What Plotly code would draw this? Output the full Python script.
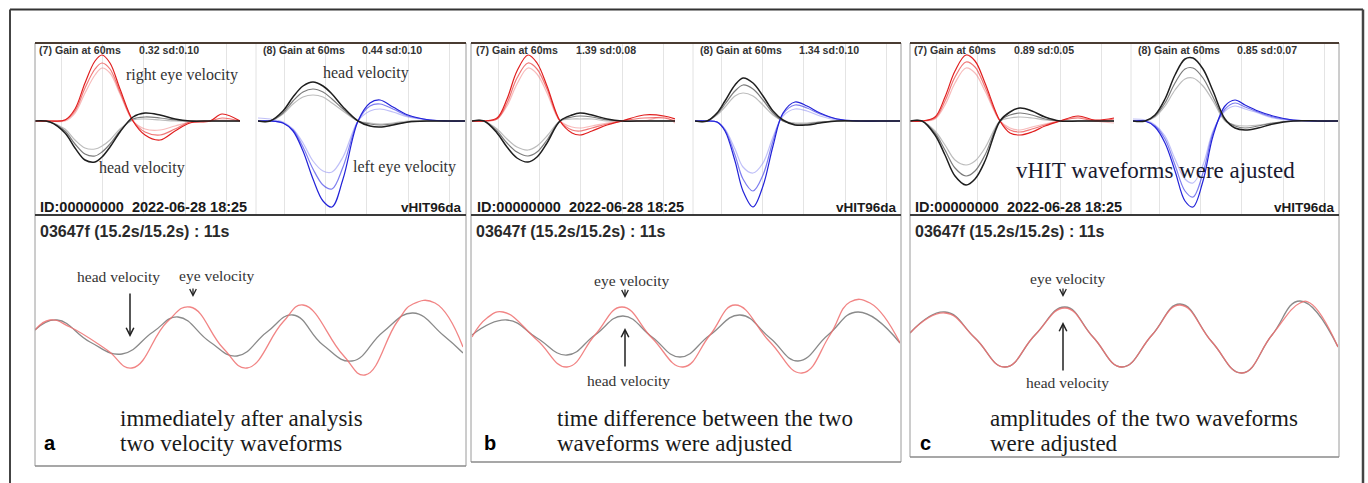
import plotly.graph_objects as go

W, H = 1368, 483

# ---------------- data ----------------
grid_t = [26, 67, 108, 150, 191]

gain_left = {"a": "0.32 sd:0.10", "b": "1.39 sd:0.08", "c": "0.89 sd:0.05"}
gain_right = {"a": "0.44 sd:0.10", "b": "1.34 sd:0.10", "c": "0.85 sd:0.07"}

# panel a, top-left (eye = red, head = black)
a_left_t = [0, 15, 30, 40, 50, 60, 67, 75, 85, 98, 110, 125, 140, 155, 175, 187, 205]
a_left_eye = [
    [0, 0, 1, 12, 38, 60, 66, 58, 32, 0, -14, -19, -10, -2, 0, 7, 0],
    [0, 0, 1, 10, 33, 52, 58, 52, 29, 0, -11, -14, -8, -1, 0, 3, 0],
    [0, 0, 0, 8, 28, 46, 53, 48, 27, 0, -8, -9, -5, -1, 0, 1, 0],
]
a_left_head = [
    [0, -1, -12, -27, -39, -41, -36, -26, -11, 4, 8, 6, 2, 0, 0, 0, 0],
    [0, -1, -10, -23, -33, -35, -31, -23, -10, 2, 4, 3, 1, 0, 0, 0, 0],
    [0, -1, -8, -19, -27, -28, -25, -19, -8, 1, 2, 1, 0, 0, 0, 0, 0],
]
# panel a, top-right (eye = blue, head = black)
a_right_t = [0, 12, 25, 35, 45, 55, 65, 74, 85, 100, 112, 122, 135, 150, 172, 190, 207]
a_right_eye = [
    [0, 0, -2, -10, -30, -58, -80, -86, -58, 0, 18, 21, 14, 6, 1, 0, 0],
    [0, 0, -2, -9, -26, -48, -64, -68, -46, 0, 15, 17, 12, 5, 1, 0, 0],
    [3, 2, -1, -8, -22, -40, -50, -51, -36, 0, 10, 12, 9, 4, 1, 0, 0],
]
a_right_head = [
    [0, 0, 10, 24, 35, 39, 35, 27, 14, 0, -5, -6, -4, -1, 0, 0, 0],
    [0, 0, 8, 20, 29, 32, 29, 22, 12, 0, -3, -4, -3, -1, 0, 0, 0],
    [0, 0, 7, 17, 24, 26, 24, 18, 10, 0, -2, -3, -2, 0, 0, 0, 0],
]
# panel b
b_left_t = [0, 12, 25, 35, 45, 56, 65, 75, 88, 100, 108, 120, 135, 150, 172, 192, 203]
b_left_eye = [
    [0, 0, 3, 22, 50, 66, 58, 35, 0, -12, -14, -10, -4, 0, 6, 5, 2],
    [0, 0, 2, 18, 43, 58, 52, 32, 0, -9, -10, -7, -3, 0, 3, 3, 0],
    [0, 0, 2, 15, 37, 53, 47, 28, 0, -6, -7, -5, -2, 0, 0, 4, -2],
]
b_left_head = [
    [0, 0, -12, -26, -37, -41, -36, -22, 0, 6, 8, 6, 2, 0, 0, 0, 0],
    [0, 0, -10, -22, -31, -35, -31, -19, 0, 4, 5, 4, 1, 0, 0, 0, 0],
    [0, 0, -8, -18, -26, -29, -25, -15, 0, 2, 2, 2, 0, 0, 0, 0, 0],
]
b_right_t = [0, 12, 22, 30, 40, 48, 58, 68, 78, 88, 100, 112, 125, 142, 165, 185, 205]
b_right_eye = [
    [0, 0, -1, -10, -40, -70, -86, -65, -25, 8, 19, 15, 8, 2, 0, 0, 0],
    [0, 0, -1, -9, -34, -58, -70, -54, -20, 7, 16, 13, 7, 2, 0, 0, 0],
    [0, 0, -1, -8, -28, -46, -52, -42, -16, 5, 12, 10, 5, 1, 0, 0, 0],
]
b_right_head = [
    [0, 0, 8, 20, 36, 43, 38, 25, 10, 1, -4, -4, -2, 0, 0, 0, 0],
    [0, 0, 7, 17, 30, 36, 32, 21, 8, 0, -3, -3, -1, 0, 0, 0, 0],
    [0, 0, 6, 14, 25, 28, 25, 16, 6, 0, -2, -2, -1, 0, 0, 0, 0],
]
# panel c
c_left_t = [0, 12, 25, 35, 45, 56, 65, 75, 90, 100, 110, 122, 135, 150, 168, 185, 204]
c_left_eye = [
    [0, 0, 4, 24, 50, 66, 60, 38, 0, -12, -14, -11, -5, 0, 5, 1, 3],
    [0, 0, 3, 20, 44, 59, 54, 34, 0, -9, -11, -8, -4, 0, 3, 0, 2],
    [0, 0, 2, 16, 38, 53, 48, 30, 0, -7, -9, -6, -3, 0, 4, 0, -2],
]
c_left_head = [
    [0, 0, -14, -34, -55, -64, -58, -40, 0, 9, 13, 10, 4, 0, 0, 0, 0],
    [0, 0, -12, -29, -47, -55, -50, -34, 0, 6, 8, 6, 2, 0, 0, 0, 0],
    [0, 0, -10, -24, -39, -44, -40, -27, 0, 3, 4, 3, 1, 0, 0, 0, 0],
]
c_right_t = [0, 12, 22, 32, 42, 52, 60, 70, 80, 92, 102, 112, 125, 140, 160, 185, 205]
c_right_eye = [
    [0, 0, -6, -22, -50, -80, -86, -60, -15, 15, 21, 16, 10, 5, 1, 0, 0],
    [0, 0, -5, -18, -44, -70, -76, -52, -12, 12, 18, 14, 9, 4, 1, 0, 0],
    [2, 1, -4, -15, -38, -58, -62, -44, -10, 10, 15, 12, 8, 3, 0, 0, 0],
]
c_right_head = [
    [0, 0, 6, 22, 46, 62, 63, 52, 30, 2, -7, -9, -7, -3, 0, 0, 0],
    [0, 0, 5, 18, 38, 52, 53, 43, 24, 1, -5, -7, -5, -2, 0, 0, 0],
    [0, 0, 4, 15, 31, 42, 43, 35, 20, 0, -4, -5, -4, -2, 0, 0, 0],
]

# bottom sinusoidal traces
a_head_x = [0, 22, 55, 87, 118, 143, 175, 202, 232, 258, 288, 317, 348, 378, 408, 428]
a_head_y = [8, 18, -4, -16, 6, 21, -4, -18, 6, 23, -7, -23, 6, 25, 3, -15]
a_eye_x = [0, 15, 35, 72, 97, 132, 155, 188, 212, 248, 268, 308, 330, 362, 378, 400, 428]
a_eye_y = [8, 18, 11, -12, -30, 16, 31, -10, -30, 16, 33, -17, -37, 16, 34, 35, -9]

b_head_x = [0, 35, 65, 95, 123, 151, 180, 208, 238, 268, 298, 326, 356, 386, 428]
b_head_y = [3, 18, 0, -17, 3, 22, 1, -19, 3, 23, 0, -23, 3, 26, -5]
b_eye_x = [0, 15, 31, 65, 95, 123, 150, 180, 211, 238, 263, 298, 330, 358, 378, 398, 428]
b_eye_y = [1, 20, 26, -2, -29, 3, 31, 0, -29, 3, 33, -4, -35, 3, 36, 35, -5]

c_head_x = [0, 35, 65, 95, 125, 155, 183, 212, 242, 270, 302, 332, 362, 390, 428]
c_head_y = [5, 26, 0, -29, 3, 31, 1, -29, 3, 34, -4, -35, 3, 37, -9]
c_eye_x = [0, 35, 65, 95, 125, 155, 183, 212, 242, 270, 302, 332, 362, 390, 400, 428]
c_eye_y = [5, 25, 0, -29, 3, 30, 1, -29, 3, 33, -4, -35, 3, 35, 35, -9]

# ---------------- layout geometry (pixels) ----------------
panels = {
    "a": dict(x0=35, x1=466, bottom=466, tl=(35, 240), tr=(258, 465), bot=(35, 463)),
    "b": dict(x0=471, x1=901, bottom=462, tl=(472, 675), tr=(695, 900), bot=(472, 900)),
    "c": dict(x0=910, x1=1339, bottom=457, tl=(910, 1114), tr=(1133, 1338), bot=(910, 1338)),
}
TOP_Y = (43, 215)
TOP_RANGE = [-94, 78]
BOT_Y = (215, 457)
BOT_RANGE = [-119, 123]

data_top = {
    "a": (a_left_t, a_left_eye, a_left_head, a_right_t, a_right_eye, a_right_head),
    "b": (b_left_t, b_left_eye, b_left_head, b_right_t, b_right_eye, b_right_head),
    "c": (c_left_t, c_left_eye, c_left_head, c_right_t, c_right_eye, c_right_head),
}
data_bot = {
    "a": (a_head_x, a_head_y, a_eye_x, a_eye_y),
    "b": (b_head_x, b_head_y, b_eye_x, b_eye_y),
    "c": (c_head_x, c_head_y, c_eye_x, c_eye_y),
}

RED = ["#e01e1e", "rgba(232,60,60,0.7)", "rgba(240,120,120,0.5)"]
BLUE = ["#2222d8", "rgba(70,70,232,0.7)", "rgba(130,130,242,0.5)"]
BLACK = ["#1e1e1e", "#7c7c7c", "#bdbdbd"]


def fx(x):
    return x / W


def fy(y):
    return 1 - y / H


fig = go.Figure()
layout_axes = {}
n_axis = [0]


def new_axes(xpx, ypx, xr, yr, grid):
    n_axis[0] += 1
    n = n_axis[0]
    suf = "" if n == 1 else str(n)
    xa = dict(domain=[fx(xpx[0]), fx(xpx[1])], range=xr, showticklabels=False,
              zeroline=False, showline=False, ticks="", anchor="y" + suf)
    if grid:
        xa.update(showgrid=True, gridcolor="#e4e4e4", gridwidth=1, tickvals=grid)
    else:
        xa.update(showgrid=False)
    ya = dict(domain=[fy(ypx[1]), fy(ypx[0])], range=yr, showgrid=False,
              showticklabels=False, zeroline=False, showline=False, anchor="x" + suf)
    layout_axes["xaxis" + suf] = xa
    layout_axes["yaxis" + suf] = ya
    return "x" + suf, "y" + suf


def line(xs, ys, color, width, xa, ya, smoothing=1.0):
    fig.add_trace(go.Scatter(x=xs, y=ys, mode="lines", xaxis=xa, yaxis=ya,
                             line=dict(color=color, width=width, shape="spline",
                                       smoothing=smoothing),
                             hoverinfo="skip", showlegend=False))


for p, g in panels.items():
    lt, le, lh, rt, re_, rh = data_top[p]
    xa, ya = new_axes(g["tl"], TOP_Y, [0, g["tl"][1] - g["tl"][0]], TOP_RANGE, grid_t)
    for i in (2, 1):
        line(lt, lh[i], BLACK[i], 1.2, xa, ya)
    for i in (2, 1, 0):
        line(lt, le[i], RED[i], 1.2, xa, ya)
    line(lt, lh[0], BLACK[0], 1.5, xa, ya)
    xa, ya = new_axes(g["tr"], TOP_Y, [0, g["tr"][1] - g["tr"][0]], TOP_RANGE, grid_t)
    for i in (2, 1):
        line(rt, rh[i], BLACK[i], 1.2, xa, ya)
    for i in (2, 1, 0):
        line(rt, re_[i], BLUE[i], 1.2, xa, ya)
    line(rt, rh[0], BLACK[0], 1.5, xa, ya)
    hx, hy, ex, ey = data_bot[p]
    xa, ya = new_axes(g["bot"], BOT_Y, [0, g["bot"][1] - g["bot"][0]], BOT_RANGE, None)
    line(hx, hy, "#8a8a8a", 1.3, xa, ya, 1.3)
    line(ex, ey, "rgba(238,110,110,0.85)", 1.3, xa, ya, 1.3)

shapes = []


def pline(x0, y0, x1, y1, color, width):
    shapes.append(dict(type="line", xref="paper", yref="paper", x0=fx(x0), y0=fy(y0),
                       x1=fx(x1), y1=fy(y1), line=dict(color=color, width=width)))


pline(10, 9.5, 1363, 9.5, "#333333", 2)
pline(10, 9.5, 10, 483, "#444444", 2)
pline(1363, 9.5, 1363, 483, "#444444", 2.5)

for p, g in panels.items():
    x0, x1, b = g["x0"], g["x1"], g["bottom"]
    pline(x0, 43, x0, b, "#9a9a9a", 1)
    pline(x1, 43, x1, b, "#9a9a9a", 1)
    pline(x0, b, x1, b, "#8a8a8a", 1.5)
    pline(x0, 43, x1, 43, "#4a3c32", 2)
    pline(x0, 215, x1, 215, "#3a3a3a", 2)
    pline(g["tr"][0] - 2, 44, g["tr"][0] - 2, 214, "#e2e2e2", 1)

ann = []


def text(x, y, s, size, family="Liberation Sans", color="#222222", xanchor="left",
         bold=False):
    if bold:
        s = "<b>" + s + "</b>"
    ann.append(dict(x=fx(x), y=fy(y), xref="paper", yref="paper", text=s, showarrow=False,
                    xanchor=xanchor, yanchor="middle",
                    font=dict(family=family, size=size, color=color)))


def arrow(x, y_tail, y_head, width=1.5):
    ann.append(dict(x=fx(x), y=fy(y_head), xref="paper", yref="paper", text="",
                    showarrow=True, ax=0, ay=y_tail - y_head, arrowhead=5, arrowsize=1,
                    arrowwidth=width, arrowcolor="#222222"))


SERIF = "Liberation Serif"
captions = {
    "a": ("immediately after analysis", "two velocity waveforms", 118),
    "b": ("time difference between the two", "waveforms were adjusted", 555),
    "c": ("amplitudes of the two waveforms", "were adjusted", 988),
}
letters = {"a": 42, "b": 482, "c": 918}

for p, g in panels.items():
    tl0 = g["tl"][0]
    tr0 = g["tr"][0]
    text(tl0 + 2, 50, "(7) Gain at 60ms", 10.6, color="#333333", bold=True)
    text(tl0 + 102, 50, gain_left[p], 10.6, color="#333333", bold=True)
    text(tr0 + 3, 50, "(8) Gain at 60ms", 10.6, color="#333333", bold=True)
    text(tr0 + 102, 50, gain_right[p], 10.6, color="#333333", bold=True)
    text(tl0 + 3, 207, "ID:00000000  2022-06-28 18:25", 14.5, color="#1a1a1a", bold=True)
    text(g["tr"][1] - 1, 207, "vHIT96da", 13.5, color="#1a1a1a", xanchor="right", bold=True)
    text(g["x0"] + 3, 232, "03647f (15.2s/15.2s) : 11s", 16, color="#2a2a2a", bold=True)
    c1, c2, cx = captions[p]
    text(cx, 418, c1, 23, family=SERIF, color="#1a1a1a")
    text(cx, 443, c2, 23, family=SERIF, color="#1a1a1a")
    text(letters[p], 443, p, 20, color="#000000", bold=True)

text(182, 75, "right eye velocity", 16, family=SERIF, color="#333333", xanchor="center")
text(142, 168, "head velocity", 16, family=SERIF, color="#333333", xanchor="center")
text(366, 73, "head velocity", 16, family=SERIF, color="#333333", xanchor="center")
text(405, 167, "left eye velocity", 16, family=SERIF, color="#333333", xanchor="center")
text(1155, 170, "vHIT waveforms were ajusted", 23, family=SERIF, color="#1a1a30", xanchor="center")

text(118, 276, "head velocity", 15.5, family=SERIF, color="#333333", xanchor="center")
arrow(130, 292, 337)
text(217, 275, "eye velocity", 15.5, family=SERIF, color="#333333", xanchor="center")
arrow(193, 287, 297, 1.3)

text(632, 280, "eye velocity", 15.5, family=SERIF, color="#333333", xanchor="center")
arrow(625, 288, 298, 1.3)
arrow(625, 368, 328)
text(628, 380, "head velocity", 15.5, family=SERIF, color="#333333", xanchor="center")

text(1068, 278, "eye velocity", 15.5, family=SERIF, color="#333333", xanchor="center")
arrow(1063, 287, 297, 1.3)
arrow(1063, 372, 322)
text(1067, 382, "head velocity", 15.5, family=SERIF, color="#333333", xanchor="center")

fig.update_layout(
    width=W, height=H, margin=dict(l=0, r=0, t=0, b=0),
    paper_bgcolor="white", plot_bgcolor="white",
    showlegend=False, shapes=shapes, annotations=ann,
    **layout_axes,
)

fig.write_html("out.html", config={"displayModeBar": False},
               post_script="document.body.style.margin='0';document.body.style.overflow='hidden';")
